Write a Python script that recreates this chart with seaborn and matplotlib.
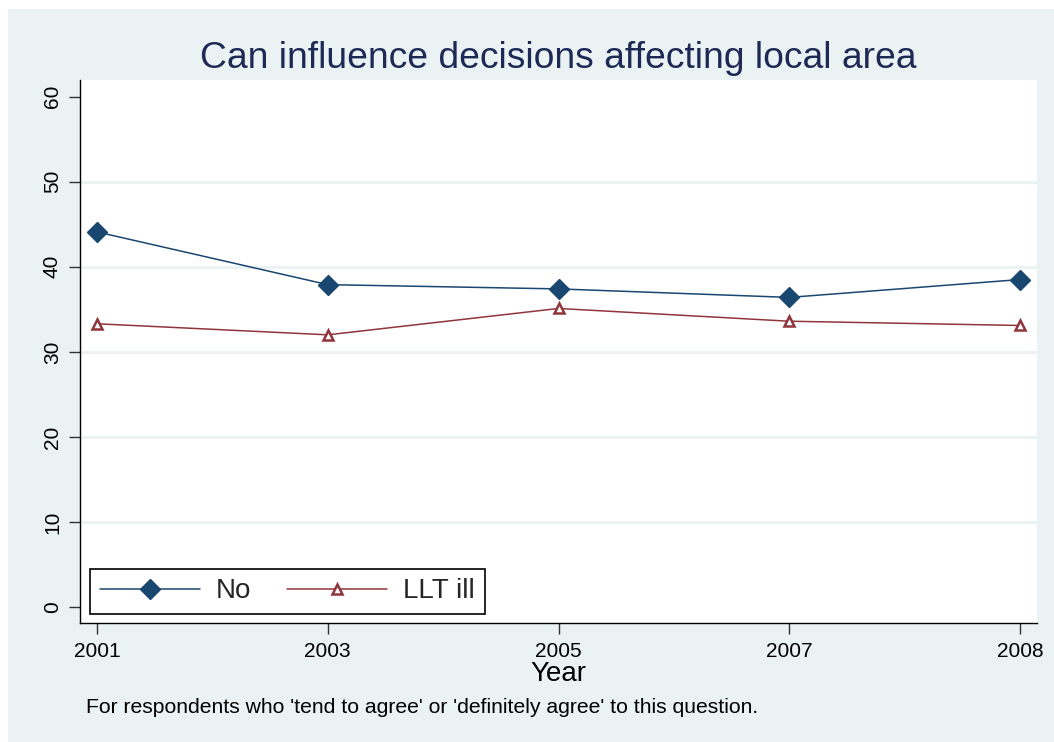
import matplotlib
matplotlib.use("Agg")
import matplotlib.pyplot as plt
import seaborn as sns
import pandas as pd
from matplotlib.patches import Rectangle

# Survey waves and share (%) who can influence local decisions
years = ["2001", "2003", "2005", "2007", "2008"]
no_values = [44.1, 37.9, 37.4, 36.4, 38.5]
llt_ill_values = [33.3, 32.0, 35.1, 33.6, 33.1]
y_ticks = [0, 10, 20, 30, 40, 50, 60]

title_text = "Can influence decisions affecting local area"
note_text = "For respondents who 'tend to agree' or 'definitely agree' to this question."

NAVY = "#1A476F"
RED = "#90353B"
PANEL = "#EAF2F3"
TITLE_COLOR = "#1E2A55"

sns.set_theme(style="white")
plt.rcParams["font.family"] = ["Liberation Sans", "DejaVu Sans"]

W, H = 1054, 742
fig = plt.figure(figsize=(W / 100, H / 100), dpi=100)
fig.patch.set_facecolor("white")

# shaded graph region behind the plot area
fig.patches.append(Rectangle((8 / W, 0), 1 - 8 / W, 1 - 9 / H,
                             transform=fig.transFigure, facecolor=PANEL,
                             edgecolor="none", zorder=-10))

ax = fig.add_axes([80 / W, 1 - 623 / H, (1037 - 80) / W, (623 - 80) / H])
ax.set_facecolor("white")

df = pd.DataFrame({"Year": years, "No": no_values, "LLT ill": llt_ill_values})

sns.lineplot(data=df, x="Year", y="No", ax=ax, sort=False, color=NAVY,
             lw=1.1, marker="D", markersize=10.5, markerfacecolor=NAVY,
             markeredgecolor=NAVY, markeredgewidth=1, label="No", zorder=3)
sns.lineplot(data=df, x="Year", y="LLT ill", ax=ax, sort=False, color=RED,
             lw=1.1, marker="^", markersize=7, markerfacecolor="white",
             markeredgecolor=RED, markeredgewidth=1.8, label="LLT ill", zorder=3)

ax.set_xlim(-0.0737, 4.0737)
ax.set_ylim(-1.88, 61.96)
ax.set_yticks(y_ticks)
ax.set_yticklabels([str(t) for t in y_ticks], rotation=90, va="center")

# horizontal grid lines at the inner ticks only
for t in y_ticks[1:-1]:
    ax.axhline(t, color=PANEL, lw=2.2, zorder=1)

for side in ["top", "right"]:
    ax.spines[side].set_visible(False)
for side in ["left", "bottom"]:
    ax.spines[side].set_color("black")
    ax.spines[side].set_linewidth(1.0)

ax.tick_params(axis="both", direction="out", length=8, width=1,
               color="#333333", labelsize=15, labelcolor="black",
               left=True, bottom=True)
ax.tick_params(axis="y", pad=5)
ax.tick_params(axis="x", pad=6)

ax.set_xlabel("Year", fontsize=20, color="black", labelpad=0)
ax.set_ylabel("")

leg = ax.legend(loc="lower left", bbox_to_anchor=(90 / W, 1 - 614 / H),
                bbox_transform=fig.transFigure, borderaxespad=0, ncol=2,
                frameon=True, fancybox=False, framealpha=1, facecolor="white",
                edgecolor="black", fontsize=20, handlelength=3.6,
                handletextpad=0.58, columnspacing=1.3, borderpad=0.35)
leg.get_frame().set_linewidth(1.2)

fig.text(558.5 / W, 1 - 68.3 / H, title_text, ha="center", va="baseline",
         fontsize=26.8, color=TITLE_COLOR)
fig.text(86 / W, 1 - 713 / H, note_text, ha="left", va="baseline",
         fontsize=15.2, color="black")

fig.savefig("out.png", dpi=100)
